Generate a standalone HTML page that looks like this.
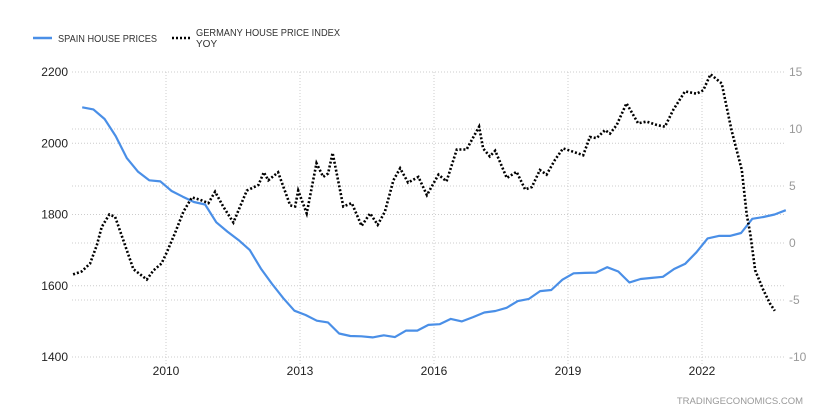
<!DOCTYPE html>
<html><head><meta charset="utf-8"><style>
body{margin:0;background:#fff;}
svg{display:block;font-family:"Liberation Sans",sans-serif;}
</style></head><body>
<svg id="chart" width="825" height="417">
  <g>
    <g>
      <line x1="33" y1="38" x2="52" y2="38" stroke="#4a8fe7" stroke-width="2.5"/>
      <text x="58" y="42" font-size="10" fill="#333" textLength="99" lengthAdjust="spacingAndGlyphs">SPAIN HOUSE PRICES</text>
    </g>
    <g>
      <line x1="172" y1="38" x2="190" y2="38" stroke="#000" stroke-width="2.5" stroke-dasharray="2 2"/>
      <text x="196" y="36" font-size="10" fill="#333" textLength="144" lengthAdjust="spacingAndGlyphs">GERMANY HOUSE PRICE INDEX</text>
      <text x="196" y="47" font-size="10" fill="#333">YOY</text>
    </g>
  </g>
  <g id="grid"></g>
  <g id="axes"></g>
  <g id="series"></g>
  <text x="803" y="404" font-size="9.5" fill="#999" text-anchor="end">TRADINGECONOMICS.COM</text>
</svg>
<script>
const leftTicks=[2200,2000,1800,1600,1400];
const rightTicks=[15,10,5,0,-5,-10];
const yearTicks=[2010,2013,2016,2019,2022];
const spainStart=2008.125;
const spainValues=[2101,2095,2068,2020,1958,1920,1896,1893,1866,1850,1835,1828,1778,1752,1728,1700,1648,1605,1565,1530,1518,1502,1497,1466,1459,1458,1455,1461,1456,1474,1474,1490,1492,1507,1500,1512,1525,1529,1538,1557,1563,1585,1588,1617,1635,1636,1637,1652,1640,1609,1619,1622,1625,1647,1662,1694,1733,1740,1740,1748,1788,1793,1800,1812];
const germanyDates=[2007.92,2008.11,2008.30,2008.45,2008.56,2008.73,2008.86,2009.04,2009.27,2009.57,2009.72,2009.90,2010.02,2010.20,2010.39,2010.58,2010.76,2010.95,2011.10,2011.28,2011.51,2011.81,2012.07,2012.19,2012.29,2012.51,2012.78,2012.89,2012.96,2013.15,2013.37,2013.52,2013.63,2013.73,2013.97,2014.16,2014.38,2014.57,2014.74,2014.90,2015.09,2015.24,2015.42,2015.65,2015.84,2016.10,2016.28,2016.51,2016.73,2017.01,2017.10,2017.25,2017.37,2017.63,2017.85,2018.04,2018.19,2018.37,2018.52,2018.71,2018.89,2019.12,2019.34,2019.49,2019.64,2019.83,2019.94,2020.09,2020.31,2020.57,2020.76,2020.99,2021.17,2021.36,2021.62,2021.88,2022.03,2022.19,2022.44,2022.66,2022.89,2023.00,2023.08,2023.19,2023.37,2023.52,2023.63];
const germanyValues=[-2.75,-2.5,-1.8,-0.2,1.4,2.5,2.3,0.3,-2.3,-3.2,-2.4,-1.8,-0.8,0.85,2.75,4.0,3.8,3.5,4.5,3.2,1.8,4.6,5.1,6.2,5.5,6.2,3.3,3.2,4.6,2.6,7.0,5.8,6.1,7.9,3.2,3.5,1.5,2.6,1.6,2.75,5.5,6.55,5.3,5.8,4.2,6.0,5.4,8.2,8.2,10.2,8.3,7.6,8.1,5.7,6.25,4.7,4.9,6.4,6.0,7.3,8.3,8.0,7.7,9.3,9.2,9.9,9.6,10.35,12.25,10.5,10.65,10.35,10.2,11.7,13.3,13.1,13.4,14.8,14.0,9.9,6.4,2.5,0.85,-2.4,-4.1,-5.3,-5.95];

const NS='http://www.w3.org/2000/svg';
const X0=72,X1=785,YT=72,YB=357;
function xs(yr){return 166+(yr-2010)*44.667;}
function yl(v){return YT+(2200-v)/800*(YB-YT);}
function yr(v){return YT+(15-v)/25*(YB-YT);}
function mk(tag,attrs,parent){const e=document.createElementNS(NS,tag);for(const k in attrs)e.setAttribute(k,attrs[k]);parent.appendChild(e);return e;}
const grid=document.getElementById('grid'),axes=document.getElementById('axes'),series=document.getElementById('series');
leftTicks.forEach(v=>{
  const l=mk('line',{x1:X0,x2:X1,y1:yl(v),y2:yl(v),stroke:'#ccc','stroke-dasharray':'1 2'},grid);
  
  
  const t=mk('text',{x:68,y:yl(v)+4,'font-size':12,fill:'#222','text-anchor':'end'},axes);
  t.textContent=v;
  
  
});
rightTicks.forEach(v=>{
  const l=mk('line',{x1:X0,x2:X1,y1:yr(v),y2:yr(v),stroke:'#ccc','stroke-dasharray':'1 2'},grid);
  
  
  const t=mk('text',{x:789,y:yr(v)+4,'font-size':12,fill:'#999'},axes);
  t.textContent=v;
  
  
});
yearTicks.forEach(y=>{
  const l=mk('line',{x1:xs(y),x2:xs(y),y1:YT,y2:YB+8,stroke:'#ccc','stroke-dasharray':'1 2'},grid);
  
  
  const t=mk('text',{x:xs(y),y:375,'font-size':12,fill:'#222','text-anchor':'middle'},axes);
  t.textContent=y;
  
  
});
const sp=spainValues.map((v,i)=>xs(spainStart+i*0.25).toFixed(1)+','+yl(v).toFixed(1)).join(' ');
const p1=mk('polyline',{points:sp,fill:'none',stroke:'#4a8fe7','stroke-width':2.2,'stroke-linejoin':'round'},series);


const gp=germanyValues.map((v,i)=>xs(germanyDates[i]).toFixed(1)+','+yr(v).toFixed(1)).join(' ');
const p2=mk('polyline',{points:gp,fill:'none',stroke:'#000','stroke-width':2.6,'stroke-dasharray':'2 2'},series);


</script>
</body></html>
